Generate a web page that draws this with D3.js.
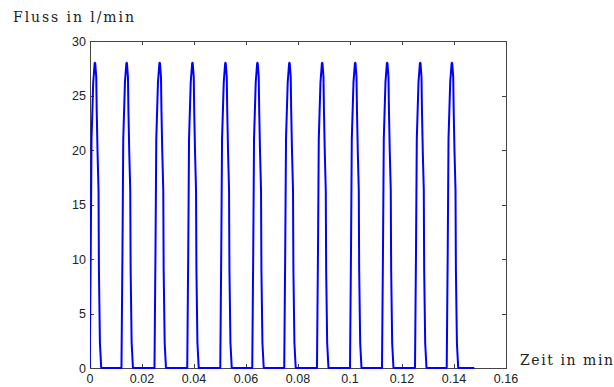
<!DOCTYPE html>
<html>
<head>
<meta charset="utf-8">
<script src="https://cdn.jsdelivr.net/npm/d3@7"></script>
<style>
  body { margin: 0; background: #fff; }
  svg { display: block; }
</style>
</head>
<body>
<svg width="614" height="387"></svg>
<script>
(function() {
    'use strict';

    // rise start of each pulse (min)
    var pulseStart = [-0.0001, 0.0121, 0.0248, 0.0374, 0.0501, 0.0624,
                      0.0747, 0.0873, 0.1000, 0.1123, 0.1250, 0.1372];
    // shape of one pulse: time after rise start (min) and flow (l/min)
    var shapeOffset = [0, 0.00019, 0.00038, 0.00069, 0.00134, 0.00190, 0.0021,
                       0.0025, 0.00269, 0.0030, 0.00338, 0.00353, 0.00392, 0.00442];
    var shapeFlow = [0, 5.3, 10.5, 21, 26.2, 28, 28,
                     26.7, 23.5, 19.8, 16.3, 9, 2.3, 0];
    var endTime = 0.1478;

    var xTicks = [0, 0.02, 0.04, 0.06, 0.08, 0.1, 0.12, 0.14, 0.16];
    var yTicks = [0, 5, 10, 15, 20, 25, 30];

    var svg = d3.select("svg");

    var x = d3.scaleLinear()
        .domain([0, 0.16])
        .range([90, 506]);

    var y = d3.scaleLinear()
        .domain([0, 30])
        .range([368, 41]);

    var points = [];
    pulseStart.forEach(function(t0) {
        shapeOffset.forEach(function(dt, i) {
            points.push([t0 + dt, shapeFlow[i]]);
        });
    });
    points.push([endTime, 0]);

    svg.append("clipPath")
        .attr("id", "clip")
      .append("rect")
        .attr("x", x(0))
        .attr("y", y(30) - 2)
        .attr("width", x(0.16) - x(0))
        .attr("height", y(0) - y(30) + 4);

    var axisColor = "#444";
    var labelColor = "#222";
    var tickFont = "'Liberation Sans', Arial, sans-serif";
    var labelFont = "'DejaVu Serif', 'Liberation Serif', serif";

    // box
    svg.append("rect")
        .attr("x", x(0))
        .attr("y", y(30))
        .attr("width", x(0.16) - x(0))
        .attr("height", y(0) - y(30))
        .attr("fill", "none")
        .attr("stroke", axisColor)
        .attr("stroke-width", 1)
        .attr("shape-rendering", "crispEdges");

    var xt = svg.append("g").attr("class", "xticks");
    xTicks.forEach(function(v) {
        var px = Math.round(x(v)) + 0.5;
        xt.append("line")
            .attr("x1", px).attr("x2", px)
            .attr("y1", y(0)).attr("y2", y(0) - 4)
            .attr("stroke", axisColor);
        xt.append("line")
            .attr("x1", px).attr("x2", px)
            .attr("y1", y(30)).attr("y2", y(30) + 4)
            .attr("stroke", axisColor);
        xt.append("text")
            .attr("x", x(v))
            .attr("y", 383)
            .attr("text-anchor", "middle")
            .attr("font-family", tickFont)
            .attr("font-size", 12.5)
            .attr("fill", labelColor)
            .text(d3.format("~g")(v));
    });

    var yt = svg.append("g").attr("class", "yticks");
    yTicks.forEach(function(v) {
        var py = Math.round(y(v)) + 0.5;
        yt.append("line")
            .attr("x1", x(0)).attr("x2", x(0) + 4)
            .attr("y1", py).attr("y2", py)
            .attr("stroke", axisColor);
        yt.append("line")
            .attr("x1", x(0.16)).attr("x2", x(0.16) - 4)
            .attr("y1", py).attr("y2", py)
            .attr("stroke", axisColor);
        yt.append("text")
            .attr("x", 86)
            .attr("y", y(v))
            .attr("dy", "0.36em")
            .attr("text-anchor", "end")
            .attr("font-family", tickFont)
            .attr("font-size", 12.5)
            .attr("fill", labelColor)
            .text(v);
    });

    var line = d3.line()
        .x(function(d) { return x(d[0]); })
        .y(function(d) { return y(d[1]); });

    svg.append("path")
        .datum(points)
        .attr("clip-path", "url(#clip)")
        .attr("fill", "none")
        .attr("stroke", "#0000ff")
        .attr("stroke-width", 2)
        .attr("stroke-linejoin", "bevel")
        .attr("d", line);

    svg.append("text")
        .attr("x", 13)
        .attr("y", 22)
        .attr("font-family", labelFont)
        .attr("font-size", 14)
        .attr("textLength", 121)
        .attr("fill", "#222")
        .text("Fluss in l/min");

    svg.append("text")
        .attr("x", 520)
        .attr("y", 365)
        .attr("font-family", labelFont)
        .attr("font-size", 14)
        .attr("textLength", 93)
        .attr("fill", "#222")
        .text("Zeit in min");
}());
</script>
</body>
</html>
